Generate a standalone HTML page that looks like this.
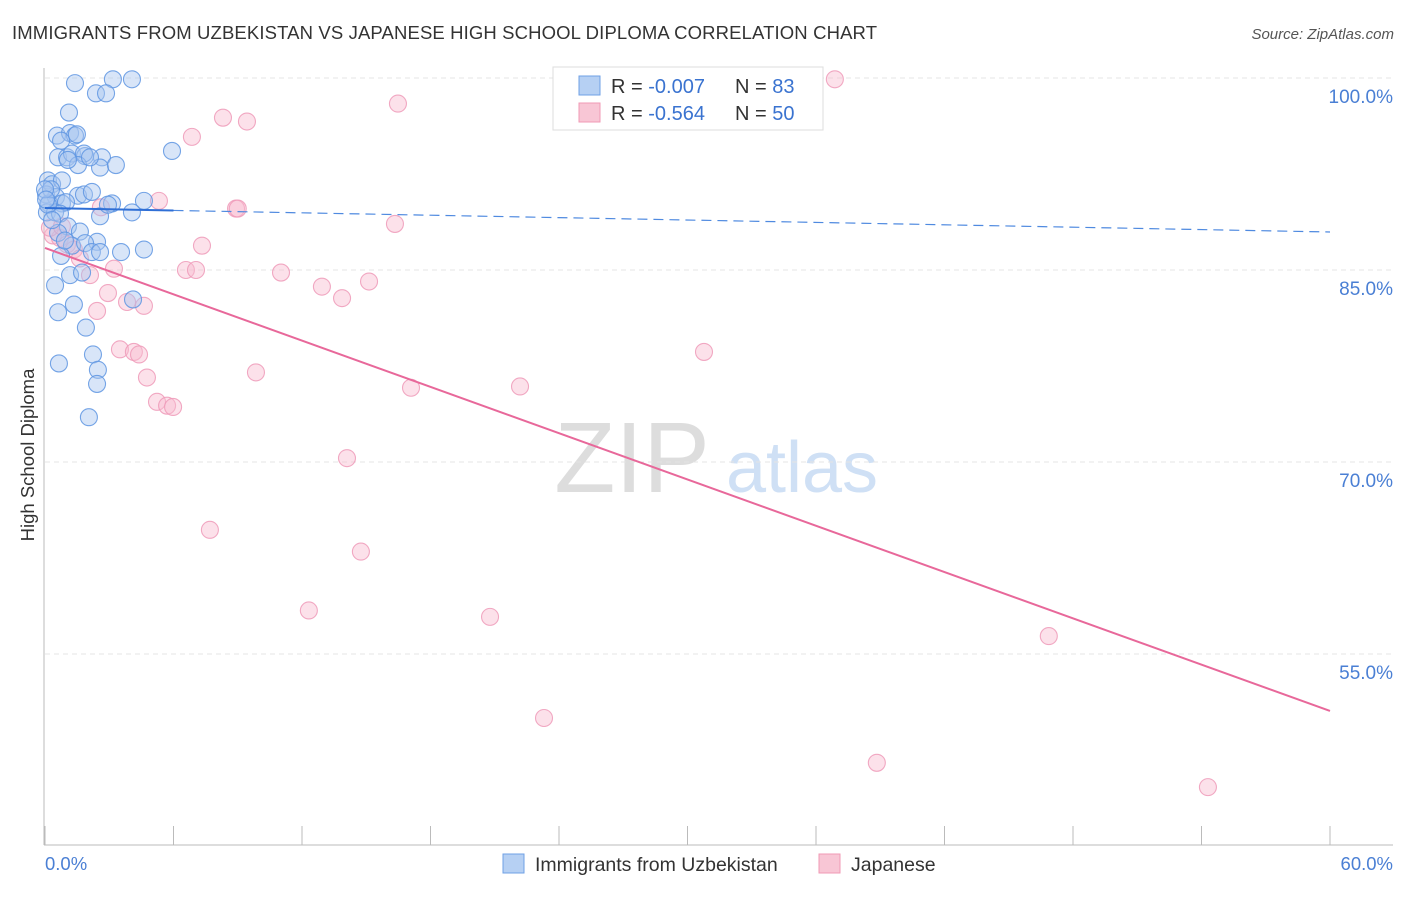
<!DOCTYPE html>
<html><head><meta charset="utf-8"><style>
body{margin:0;background:#fff;font-family:"Liberation Sans",sans-serif}
svg text{font-family:"Liberation Sans",sans-serif}
</style></head><body>
<svg id="c" width="1406" height="892">
<text x="12" y="39" font-size="18.5" fill="#333" textLength="865">IMMIGRANTS FROM UZBEKISTAN VS JAPANESE HIGH SCHOOL DIPLOMA CORRELATION CHART</text>
<text x="1394" y="39" font-size="15" fill="#555" font-style="italic" text-anchor="end">Source: ZipAtlas.com</text>
<text x="632" y="492" font-size="100" fill="#ddd" text-anchor="middle" font-family="Liberation Serif">ZIP</text>
<text x="802" y="492" font-size="72" fill="#cfe0f5" text-anchor="middle">atlas</text>
<g id="grid"></g><g id="marks"></g>
<text transform="translate(34,455) rotate(-90)" font-size="18.5" fill="#333" text-anchor="middle">High School Diploma</text>
<text x="45" y="870" font-size="18.5" fill="#4a7fd4">0.0%</text>
<text x="1393" y="870" font-size="18.5" fill="#4a7fd4" text-anchor="end">60.0%</text>
<g>
<rect x="553" y="67" width="270" height="63" fill="#fff" stroke="#ddd"/>
<rect x="579" y="76" width="21" height="19" fill="#b6d0f3" stroke="#6fa0e6"/>
<rect x="579" y="103" width="21" height="19" fill="#f8c6d5" stroke="#f09ab5"/>
<text x="611" y="93" font-size="20" fill="#333">R = <tspan fill="#3a73d0">-0.007</tspan></text>
<text x="735" y="93" font-size="20" fill="#333">N = <tspan fill="#3a73d0">83</tspan></text>
<text x="611" y="120" font-size="20" fill="#333">R = <tspan fill="#3a73d0">-0.564</tspan></text>
<text x="735" y="120" font-size="20" fill="#333">N = <tspan fill="#3a73d0">50</tspan></text>
</g>
<g>
<rect x="503" y="854" width="21" height="19" fill="#b6d0f3" stroke="#6fa0e6"/>
<text x="535" y="871" font-size="19.5" fill="#333">Immigrants from Uzbekistan</text>
<rect x="819" y="854" width="21" height="19" fill="#f8c6d5" stroke="#f09ab5"/>
<text x="851" y="871" font-size="19.5" fill="#333">Japanese</text>
</g>
</svg>
<script>
const yTicks=[100,85,70,55];
const yTickLabels=["100.0%","85.0%","70.0%","55.0%"];
const blueX=[1.40,3.17,4.06,2.38,2.85,1.12,0.56,1.17,1.40,1.49,0.75,0.61,1.03,1.26,1.87,1.82,2.66,2.57,3.31,5.93,1.54,0.14,0.33,0.79,0.05,0.51,0.19,0.79,1.54,1.82,2.19,0.98,4.62,3.13,4.06,2.57,0.09,0.47,0.70,1.07,0.61,1.63,1.26,2.43,1.87,2.19,2.57,3.55,4.62,0.75,1.17,1.73,0.47,1.35,0.61,4.11,1.91,2.24,2.47,2.43,2.05,0.65,0.14,0.33,0.93,0.28,0,0.05,1.07,2.10,2.94];
const blueY=[99.6,99.9,99.9,98.8,98.8,97.3,95.5,95.7,95.5,95.6,95.1,93.8,93.8,94.1,93.9,94.1,93.8,93.0,93.2,94.3,93.2,92.0,91.7,92.0,90.9,90.7,90.2,90.2,90.8,90.9,91.1,90.3,90.4,90.2,89.5,89.2,89.5,89.5,89.4,88.4,87.9,88.0,86.9,87.2,87.1,86.4,86.4,86.4,86.6,86.1,84.6,84.8,83.8,82.3,81.7,82.7,80.5,78.4,77.2,76.1,73.5,77.7,90.1,88.9,87.3,91.3,91.3,90.5,93.6,93.8,90.1];
const pinkX=[36.88,16.48,8.31,9.43,6.86,8.92,5.32,2.61,16.34,7.33,6.58,7.05,11.02,3.22,12.93,13.87,15.13,2.94,3.83,4.62,2.43,3.50,4.15,4.39,4.76,9.85,17.09,22.18,30.77,5.23,5.70,5.98,14.10,7.70,14.75,12.32,20.78,46.87,23.30,38.84,54.30,0.37,0.70,1.03,1.35,2.10,0.23,1.63,0.79,9.0];
const pinkY=[99.9,98.0,96.9,96.6,95.4,89.8,90.4,89.9,88.6,86.9,85.0,85.0,84.8,85.1,83.7,82.8,84.1,83.2,82.5,82.2,81.8,78.8,78.6,78.4,76.6,77.0,75.8,75.9,78.6,74.7,74.4,74.3,70.3,64.7,63.0,58.4,57.9,56.4,50.0,46.5,44.6,87.7,87.5,87.0,86.6,84.6,88.3,85.9,88.4,89.8];
const blueTrend=[89.84,87.97];
const pinkTrend=[86.72,50.55];
const NS="http://www.w3.org/2000/svg";
const X=v=>45+v*1285/60, Y=v=>78+(100-v)*12.8;
function mk(t,a,p){const e=document.createElementNS(NS,t);for(const k in a)e.setAttribute(k,a[k]);p.appendChild(e);return e;}
const g=document.getElementById('grid'), m=document.getElementById('marks');
yTicks.forEach((t,i)=>{
 const l=mk('line',{x1:45,x2:1393,y1:Y(t),y2:Y(t),stroke:'#e4e4e4','stroke-dasharray':'5,4'},g);
 
 
 const tx=mk('text',{x:1393,y:Y(t)+25,'font-size':19,fill:'#4a7fd4','text-anchor':'end'},g);
 tx.textContent=yTickLabels[i];
 
 
});
const ax=mk('line',{x1:44,x2:44,y1:68,y2:845,stroke:'#bbb'},g);


const bx=mk('line',{x1:44,x2:1393,y1:845,y2:845,stroke:'#bbb'},g);


for(let k=0;k<=10;k++){const t=mk('line',{x1:X(k*6),x2:X(k*6),y1:826,y2:845,stroke:'#bbb'},g);
 
 }
function dots(xs,ys,fill,stroke,name){xs.forEach((x,i)=>{const c=mk('circle',{cx:X(x),cy:Y(ys[i]),r:8.5,fill:fill,'fill-opacity':0.45,stroke:stroke,'stroke-width':1.1,'stroke-opacity':0.85},m);
 
 });}
dots(pinkX,pinkY,'#f8bcd0','#ef9ab8','point-japanese');
dots(blueX,blueY,'#a8c6f0','#5e95e2','point-uzbekistan');
const bs=mk('line',{x1:X(0),y1:Y(blueTrend[0]),x2:X(6),y2:Y(blueTrend[0]+(blueTrend[1]-blueTrend[0])*0.1),stroke:'#2f6fd6','stroke-width':2},m);


const bd=mk('line',{x1:X(6),y1:Y(blueTrend[0]+(blueTrend[1]-blueTrend[0])*0.1),x2:X(60),y2:Y(blueTrend[1]),stroke:'#4f8ae0','stroke-width':1.2,'stroke-dasharray':'10,6'},m);


const pl=mk('line',{x1:X(0),y1:Y(pinkTrend[0]),x2:X(60),y2:Y(pinkTrend[1]),stroke:'#e8689a','stroke-width':2},m);


</script>
</body></html>
